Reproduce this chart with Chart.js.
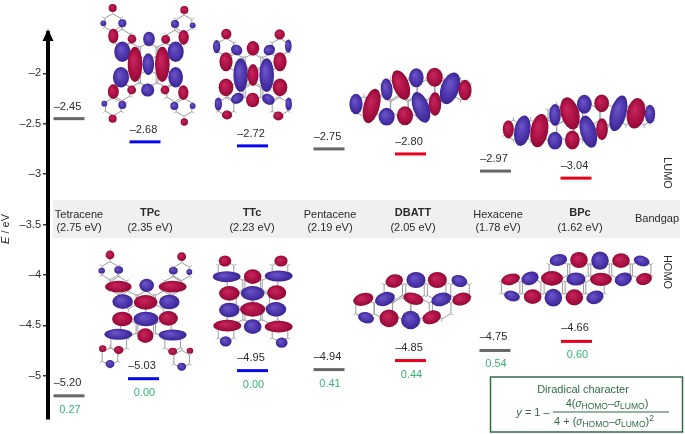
<!DOCTYPE html>
<html><head><meta charset="utf-8">
<style>html,body{margin:0;padding:0;background:#fff}canvas{display:block}</style>
<script src="https://cdn.jsdelivr.net/npm/chart.js@4/dist/chart.umd.min.js"></script>
</head><body><canvas id="c" width="685" height="434"></canvas>
<script>
// ---- data ----
const categories = ['Tetracene','TPc','TTc','Pentacene','DBATT','Hexacene','BPc'];
const bandgaps   = ['2.75','2.35','2.23','2.19','2.05','1.78','1.62'];
const lumo       = [-2.45,-2.68,-2.72,-2.75,-2.80,-2.97,-3.04];
const homo       = [-5.20,-5.03,-4.95,-4.94,-4.85,-4.75,-4.66];
const diradical  = ['0.27','0.00','0.00','0.41','0.44','0.54','0.60'];
const tickValues = [-2,-2.5,-3,-3.5,-4,-4.5,-5];
const tickLabels = ['–2','–2.5','–3','–3.5','–4','–4.5','–5'];

// ---- layout and style ----
const lumoColumn = [69,145,252.5,329,410.5,495.5,576];
const homoColumn = [69,143.5,252.5,329,410.5,495,576.5];
const nameColumn = [79,150,252,330,413,498,580];
const boldName   = [false,true,true,false,true,false,true];
const levelColor = ['#666666','#0808ee','#0808ee','#666666','#e8001c','#666666','#e8001c'];
const FONT='"Liberation Sans"', TXT='#2b2b2b', GREEN='#35b374', BOX='#2f6b45';
const R='r', B='b', LOBE=1.1;

// decorative orbital illustrations, in 3x crop units: [x,y,rx,ry,deg,colour]
const art = [
 {ox:0,oy:0,r:27,rings:[[338,68],[552,72],[366,115],[524,118],[393,155],[497,155],[445,155],[445,235],[393,235],[497,235],[366,275],[524,278],[340,320],[552,322]],
  lobes:[[338,24,11,11,0,R],[310,70,8,8,0,B],[367,70,11,11,0,B],[553,30,11,11,0,R],[525,72,11,11,0,B],[578,76,8,8,0,B],[340,108,14,20,0,R],[396,117,12,12,0,R],[447,117,16,20,0,B],[497,118,12,12,0,R],[551,112,14,20,0,R],[367,155,22,28,0,B],[527,155,22,28,0,B],[405,193,20,48,0,R],[445,193,16,30,0,B],[487,193,20,48,0,R],[363,232,22,28,0,B],[527,232,20,28,0,B],[340,275,15,20,0,R],[395,270,12,12,0,R],[443,270,18,18,0,B],[495,270,12,12,0,R],[550,278,14,20,0,R],[313,311,8,8,0,B],[367,315,11,11,0,B],[523,318,11,11,0,B],[578,318,8,8,0,B],[338,356,11,11,0,R],[553,366,10,10,0,R]]},
 {ox:0,oy:0,r:27,rings:[[678,142],[840,142],[706,187],[812,187],[759,187],[733,232],[785,232],[706,277],[812,277],[759,277],[678,320],[840,320]],
  lobes:[[679,102,14,14,0,R],[839,103,14,14,0,R],[650,140,10,18,0,B],[865,138,9,18,0,B],[710,150,16,14,30,B],[759,145,17,20,0,R],[808,150,16,14,-30,B],[678,185,18,26,0,R],[840,185,18,26,0,R],[722,225,20,46,0,B],[759,225,15,30,0,R],[800,225,20,46,0,B],[678,262,20,24,0,R],[840,262,20,24,0,R],[712,295,18,14,-30,B],[758,300,18,20,0,R],[805,298,18,14,30,B],[655,312,10,18,0,B],[866,312,9,18,0,B],[681,345,14,12,0,R],[835,348,14,12,0,R]]},
 {ox:340,oy:0,r:30,rings:[[72,320],[125,320],[178,320],[231,320],[152,270],[205,270],[258,270],[311,270],[362,270]],
  lobes:[[48,312,18,28,0,B],[95,318,22,48,15,R],[140,268,16,30,-5,B],[140,350,22,24,0,B],[183,255,22,42,-20,R],[195,347,22,26,0,R],[229,233,20,26,0,B],[243,322,22,44,-20,B],[284,232,22,26,0,R],[285,312,17,32,0,R],[330,265,25,45,20,B],[375,270,18,28,0,R]]},
 {ox:340,oy:0,r:30,rings:[[520,390],[572,390],[624,390],[676,390],[728,390],[650,345],[702,345],[754,345],[806,345],[858,345],[912,345]],
  lobes:[[505,388,15,25,0,R],[547,392,22,42,10,B],[598,392,24,46,10,R],[645,345,16,30,0,B],[645,422,20,24,0,B],[690,340,25,45,-15,R],[697,420,20,26,0,R],[733,313,20,26,0,B],[745,395,22,45,-15,B],[785,310,20,24,0,R],[786,388,16,30,0,R],[835,340,22,50,15,B],[888,340,25,42,10,R],[930,343,14,26,0,B]]},
 {ox:0,oy:200,r:27,rings:[[330,212],[545,215],[356,257],[518,257],[385,300],[490,300],[437,300],[437,385],[385,385],[490,385],[356,430],[518,430],[330,470],[545,478]],
  lobes:[[330,165,12,12,0,R],[545,170,12,12,0,R],[305,212,9,8,0,B],[356,210,12,10,0,B],[520,212,12,10,0,B],[568,216,8,8,0,B],[355,260,36,16,0,R],[440,256,20,18,0,B],[518,260,38,16,0,R],[368,305,28,20,0,B],[437,307,32,20,0,R],[508,306,28,20,0,B],[367,357,28,20,0,R],[438,357,34,20,0,B],[505,355,26,20,0,R],[355,403,38,15,0,B],[436,407,22,20,0,R],[518,405,38,15,0,B],[308,446,10,9,0,R],[356,450,13,11,0,R],[518,454,12,10,0,R],[570,452,9,8,0,R],[330,492,12,11,0,B],[545,500,12,11,0,B]]},
 {ox:0,oy:200,r:27,rings:[[678,210],[840,210],[705,255],[810,255],[758,255],[732,300],[785,300],[705,345],[758,345],[810,345],[678,400],[840,400]],
  lobes:[[675,183,17,15,0,R],[843,183,18,15,0,R],[680,230,38,15,0,B],[758,230,24,20,0,R],[836,228,38,15,0,B],[688,280,28,20,0,R],[758,280,32,20,0,B],[830,278,26,20,0,R],[688,330,28,20,0,B],[758,328,34,20,0,R],[828,328,28,20,0,B],[682,377,38,16,0,R],[758,380,24,20,0,B],[836,380,38,16,0,R],[677,424,16,14,0,B],[845,428,16,14,0,B]]},
 {ox:340,oy:200,r:32,rings:[[75,325],[130,325],[185,325],[240,325],[160,270],[225,270],[290,270],[360,270],[305,325]],
  lobes:[[70,298,28,17,-15,R],[78,353,22,15,15,B],[135,297,28,18,-20,B],[147,355,26,24,0,R],[163,243,24,18,-15,R],[228,240,26,22,0,B],[220,296,28,16,15,R],[212,360,26,25,0,B],[292,240,26,22,0,R],[304,298,28,18,-15,B],[275,352,26,18,-20,R],[358,243,22,16,15,B],[365,297,26,17,-15,R]]},
 {ox:340,oy:200,r:32,rings:[[512,263],[575,263],[640,263],[703,263],[765,263],[655,210],[717,210],[780,210],[843,210],[905,210]],
  lobes:[[512,238,26,15,-15,R],[516,288,22,14,15,B],[570,235,24,18,-20,B],[578,290,24,20,0,R],[636,235,30,20,0,R],[640,293,24,24,0,B],[655,180,24,16,-10,B],[717,180,24,22,0,R],[708,237,26,18,0,B],[703,292,24,22,0,R],[780,182,24,25,0,B],[783,238,30,18,0,R],[765,292,24,18,-20,B],[843,182,24,20,0,R],[850,238,24,18,-20,B],[905,183,22,14,15,B],[912,237,22,16,-15,R]]}
];

function drawArt(ctx){
  for(const m of art){
    ctx.save();ctx.translate(m.ox,m.oy);ctx.scale(1/3,1/3);
    ctx.lineWidth=3;
    for(const [x,y] of m.rings){
      ctx.strokeStyle='#b4b4b4';ctx.beginPath();
      for(let i=0;i<6;i++){const a=Math.PI/6+i*Math.PI/3;
        ctx.moveTo(x+m.r*Math.cos(a),y+m.r*Math.sin(a));
        ctx.lineTo(x+(m.r+9)*Math.cos(a),y+(m.r+9)*Math.sin(a));}
      ctx.stroke();
      ctx.strokeStyle='#9c9c9c';ctx.beginPath();
      for(let i=0;i<6;i++){const a=Math.PI/6+i*Math.PI/3,px=x+m.r*Math.cos(a),py=y+m.r*Math.sin(a);
        i?ctx.lineTo(px,py):ctx.moveTo(px,py);}
      ctx.closePath();ctx.stroke();
    }
    for(const [x,y,rx,ry,deg,c] of m.lobes){
      ctx.save();ctx.translate(x,y);ctx.rotate(deg*Math.PI/180);ctx.scale(rx*LOBE,ry*LOBE);
      const g=ctx.createRadialGradient(-.25,-.3,.05,0,0,1);
      if(c===R){g.addColorStop(0,'#c8265a');g.addColorStop(.7,'#a80f42');g.addColorStop(1,'#8e0a36');}
      else{g.addColorStop(0,'#6a55c8');g.addColorStop(.7,'#4a32a8');g.addColorStop(1,'#3a2590');}
      ctx.fillStyle=g;ctx.beginPath();ctx.arc(0,0,1,0,Math.PI*2);ctx.fill();ctx.restore();
    }
    ctx.restore();
  }
}

function text(ctx,s,x,y,font,color,align){
  ctx.font=font;ctx.fillStyle=color;ctx.textAlign=align||'center';ctx.textBaseline='alphabetic';ctx.fillText(s,x,y);
}
function runs(ctx,parts,cx,y,color){
  ctx.textAlign='left';ctx.textBaseline='alphabetic';ctx.fillStyle=color;
  let w=0;for(const p of parts){ctx.font=p[1];w+=ctx.measureText(p[0]).width;}
  let x=cx-w/2;for(const p of parts){ctx.font=p[1];ctx.fillText(p[0],x,y+(p[2]||0));x+=ctx.measureText(p[0]).width;}
}

const backdrop={id:'backdrop',beforeDatasetsDraw(ch){
  const c=ch.ctx;c.save();
  c.fillStyle='#f0f0f0';c.fillRect(53,200,627,38);
  drawArt(c);c.restore();
}};

const annotate={id:'annotate',afterDatasetsDraw(ch){
  const c=ch.ctx,y=ch.scales.y,F='11px '+FONT;c.save();
  categories.forEach((n,i)=>{
    const ly=y.getPixelForValue(lumo[i]),hy=y.getPixelForValue(homo[i]);
    text(c,'–'+Math.abs(lumo[i]).toFixed(2),lumoColumn[i]-1.5,ly-9,F,TXT);
    text(c,'–'+Math.abs(homo[i]).toFixed(2),homoColumn[i]-1.5,hy-10,F,TXT);
    text(c,diradical[i],homoColumn[i]+1,hy+17,F,GREEN);
    text(c,n,nameColumn[i],boldName[i]?216:218,(boldName[i]?'bold ':'')+F,TXT);
    text(c,'('+bandgaps[i]+' eV)',nameColumn[i],231,F,TXT);
  });
  text(c,'Bandgap',657,222,F,TXT);
  [['LUMO',173],['HOMO',272]].forEach(([s,py])=>{
    c.save();c.translate(664,py);c.rotate(Math.PI/2);text(c,s,0,0,F,TXT);c.restore();
  });
  c.save();c.translate(9,229);c.rotate(-Math.PI/2);
  runs(c,[['E','italic '+F],[' / eV',F]],0,0,TXT);c.restore();
  // arrow head of the energy axis
  const ax=ch.chartArea.left,top=ch.chartArea.top;
  c.fillStyle='#000';c.beginPath();c.moveTo(ax,top-4);c.lineTo(ax+5.5,top+8);c.lineTo(ax-5.5,top+8);c.closePath();c.fill();
  // diradical box
  c.strokeStyle=BOX;c.lineWidth=1.5;c.strokeRect(490.5,377,192,55);
  text(c,'Diradical character',583,393,F,BOX);
  const I='italic '+F,S='8.5px '+FONT,IS='italic 10px '+FONT;
  runs(c,[['y',I],[' = 1 –',F]],533,416,BOX);
  c.fillStyle=BOX;c.fillRect(553,411.5,116,1);
  runs(c,[['4(',F],['σ',IS],['HOMO',S,2],['–',F],['σ',IS],['LUMO',S,2],[')',F]],607,407,BOX);
  runs(c,[['4 + (',F],['σ',IS],['HOMO',S,2],['–',F],['σ',IS],['LUMO',S,2],[')',F],['2',S,-4]],604,425,BOX);
  c.restore();
}};

const levelSet=(vals,col)=>({data:vals.map((v,i)=>({x:col[i],y:v})),
  pointStyle:'line',pointRadius:15.5,pointBorderWidth:3,pointBorderColor:levelColor,showLine:false,clip:false});

new Chart(document.getElementById('c'),{
  type:'scatter',
  data:{datasets:[levelSet(lumo,lumoColumn),levelSet(homo,homoColumn)]},
  options:{
    responsive:false,animation:false,devicePixelRatio:1,
    layout:{autoPadding:false,padding:{top:33,bottom:15,left:0,right:0}},
    plugins:{legend:{display:false},tooltip:{enabled:false}},
    scales:{
      x:{type:'linear',display:false,min:48,max:685},
      y:{type:'linear',min:-5.43,max:-1.6,
        afterFit(s){s.width=48;},
        afterBuildTicks(s){s.ticks=tickValues.map(value=>({value}));},
        border:{display:true,color:'#000',width:4},
        grid:{drawOnChartArea:false,drawTicks:true,tickLength:5,color:'#333',lineWidth:1.5},
        ticks:{padding:2,color:TXT,font:{family:FONT,size:11},autoSkip:false,
          callback:v=>tickLabels[tickValues.indexOf(v)]}
      }
    }
  },
  plugins:[backdrop,annotate]
});
</script></body></html>
